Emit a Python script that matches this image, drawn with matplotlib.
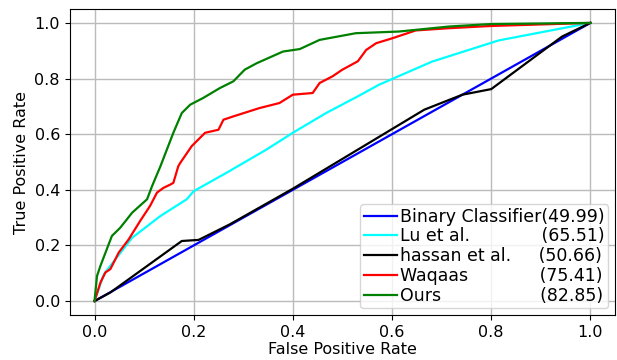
import matplotlib
matplotlib.use("Agg")
import matplotlib.pyplot as plt

# ROC curves (FPR, TPR)
binary_fpr = [0.0, 1.0]
binary_tpr = [0.0, 1.0]

lu_fpr = [0.0, 0.019, 0.042, 0.076, 0.133, 0.186, 0.2, 0.266, 0.347, 0.40, 0.467,
          0.531, 0.574, 0.681, 0.815, 1.0]
lu_tpr = [0.0, 0.097, 0.150, 0.228, 0.306, 0.366, 0.395, 0.461, 0.545, 0.605, 0.676,
          0.736, 0.778, 0.861, 0.937, 1.0]

hassan_fpr = [0.0, 0.032, 0.176, 0.21, 0.273, 0.40, 0.665, 0.742, 0.80, 0.943, 1.0]
hassan_tpr = [0.0, 0.031, 0.216, 0.22, 0.276, 0.404, 0.688, 0.742, 0.762, 0.951, 1.0]

waqaas_fpr = [0.0, 0.012, 0.022, 0.032, 0.049, 0.069, 0.092, 0.112, 0.126, 0.139, 0.153,
              0.159, 0.169, 0.173, 0.196, 0.223, 0.25, 0.26, 0.28, 0.333, 0.373, 0.40,
              0.44, 0.454, 0.48, 0.50, 0.531, 0.548, 0.568, 0.601, 0.648, 0.715, 0.80, 1.0]
waqaas_tpr = [0.0, 0.067, 0.103, 0.115, 0.175, 0.222, 0.288, 0.342, 0.39, 0.407, 0.419,
              0.425, 0.485, 0.497, 0.557, 0.605, 0.616, 0.652, 0.664, 0.694, 0.712, 0.742,
              0.748, 0.784, 0.808, 0.832, 0.862, 0.903, 0.927, 0.945, 0.973, 0.981, 0.989, 1.0]

ours_fpr = [0.0, 0.005, 0.012, 0.035, 0.052, 0.076, 0.106, 0.116, 0.133, 0.146, 0.159,
            0.176, 0.193, 0.219, 0.253, 0.280, 0.303, 0.327, 0.38, 0.414, 0.454, 0.527,
            0.614, 0.715, 0.80, 1.0]
ours_tpr = [0.0, 0.09, 0.127, 0.234, 0.264, 0.318, 0.366, 0.413, 0.485, 0.545, 0.605,
            0.676, 0.706, 0.730, 0.766, 0.790, 0.832, 0.855, 0.897, 0.906, 0.939, 0.963,
            0.969, 0.987, 0.996, 1.0]

names = ["Binary Classifier", "Lu et al.", "hassan et al.", "Waqaas", "Ours"]
scores = ["(49.99)", "(65.51)", "(50.66)", "(75.41)", "(82.85)"]
colors = ["blue", "cyan", "black", "red", "green"]

fig = plt.figure(figsize=(6.17, 3.6), dpi=100)
ax = fig.add_axes([0.113, 0.125, 0.884, 0.85])

# pad labels with spaces so the scores line up on the right
legend_size = 12.5
renderer = fig.canvas.get_renderer()
def text_width(s):
    t = fig.text(0, 0, s, fontsize=legend_size)
    w = t.get_window_extent(renderer).width
    t.remove()
    return w
target = text_width(names[0] + scores[0])
labels = []
for n, s in zip(names, scores):
    best = min(range(0, 30), key=lambda k: abs(text_width(n + " " * k + s) - target))
    labels.append(n + " " * best + s)

curves = [(binary_fpr, binary_tpr), (lu_fpr, lu_tpr), (hassan_fpr, hassan_tpr),
          (waqaas_fpr, waqaas_tpr), (ours_fpr, ours_tpr)]
for (x, y), c, lab in zip(curves, colors, labels):
    ax.plot(x, y, color=c, lw=1.6, label=lab)

ax.set_xlabel("False Positive Rate", fontsize=11.5, labelpad=2)
ax.set_ylabel("True Positive Rate", fontsize=11.5)
ax.tick_params(labelsize=11.5)
ax.grid(True, color="#bbbbbb", linewidth=1)
ax.set_axisbelow(True)
ax.legend(loc="lower right", fontsize=legend_size, handlelength=1.9, borderpad=0.2,
          labelspacing=0.1, handletextpad=0.2, borderaxespad=0.4)

fig.savefig("out.png", dpi=100)
